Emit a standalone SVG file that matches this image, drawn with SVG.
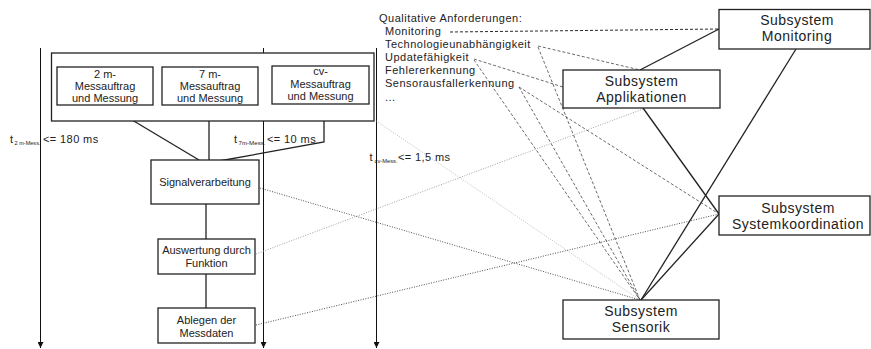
<svg xmlns="http://www.w3.org/2000/svg" width="871" height="349" viewBox="0 0 871 349">
<style>
  .box { fill: #fff; stroke: #222; stroke-width: 1.3; }
  .t11 { font-family: "Liberation Sans", Arial, sans-serif; font-size: 11px; fill: #222; }
  .lbl { font-family: "Liberation Sans", Arial, sans-serif; font-size: 11px; fill: #222; letter-spacing: 0.4px; }
  .sub { font-family: "Liberation Sans", Arial, sans-serif; font-size: 5px; fill: #222; }
  .req { font-family: "Liberation Sans", Arial, sans-serif; font-size: 11px; fill: #222; letter-spacing: 0.5px; }
  .sys { font-family: "Liberation Sans", Arial, sans-serif; font-size: 14px; fill: #222; letter-spacing: 0.5px; text-anchor: middle; }
  .mid { text-anchor: middle; }
  .solid { stroke: #222; stroke-width: 1.3; fill: none; }
  .axis { stroke: #111; stroke-width: 1; fill: none; }
  .dash { stroke: #444; stroke-width: 0.8; stroke-dasharray: 3 2; fill: none; }
  .dashd { stroke: #111; stroke-width: 0.9; stroke-dasharray: 3 2; fill: none; }
  .dotk { stroke: #222; stroke-width: 0.8; stroke-dasharray: 1 1.5; fill: none; }
  .dotg { stroke: #888; stroke-width: 0.8; stroke-dasharray: 1 1.5; fill: none; }
  .dotl { stroke: #aaa; stroke-width: 0.8; stroke-dasharray: 1 1.5; fill: none; }
</style>
<defs>
  <marker id="arr" viewBox="0 0 6 6" refX="6" refY="3" markerWidth="6" markerHeight="6" markerUnits="userSpaceOnUse" orient="auto">
    <path d="M0,0 L6,3 L0,6 z" fill="#111"/>
  </marker>
</defs>
<rect width="871" height="349" fill="#fff"/>

<g id="connectors">
  <!-- time axes -->
  <line class="axis" x1="40.5" y1="48" x2="40.5" y2="348" marker-end="url(#arr)"/>
  <line class="axis" x1="263.5" y1="48" x2="263.5" y2="348" marker-end="url(#arr)"/>
  <line class="axis" x1="376.5" y1="48" x2="376.5" y2="348" marker-end="url(#arr)"/>
  <!-- left flow -->
  <line class="solid" x1="107" y1="105" x2="199" y2="160"/>
  <line class="solid" x1="209" y1="105" x2="209" y2="160"/>
  <polyline class="solid" points="324,104 324,142 219,161"/>
  <line class="solid" x1="206" y1="204" x2="206" y2="239"/>
  <line class="solid" x1="206" y1="274" x2="206" y2="308"/>
  <!-- subsystem solid links -->
  <line class="solid" x1="719" y1="29" x2="640" y2="70"/>
  <line class="solid" x1="796" y1="49" x2="641" y2="300"/>
  <line class="solid" x1="643" y1="108" x2="719" y2="214"/>
  <line class="solid" x1="719" y1="214" x2="641" y2="300"/>
  <!-- requirement dashed links -->
  <line class="dashd" x1="450" y1="32" x2="719" y2="29"/>
  <line class="dash" x1="538" y1="46" x2="640" y2="70"/>
  <line class="dash" x1="538" y1="47" x2="640" y2="300"/>
  <line class="dash" x1="474" y1="59" x2="563" y2="87"/>
  <line class="dash" x1="474" y1="60" x2="640" y2="300"/>
  <line class="dash" x1="519" y1="87" x2="640" y2="300"/>
  <line class="dash" x1="519" y1="87" x2="719" y2="214"/>
  <!-- dotted mapping links -->
  <line class="dotl" x1="366" y1="114" x2="640" y2="300"/>
  <line class="dotk" x1="260" y1="188" x2="640" y2="300"/>
  <line class="dotg" x1="256" y1="254" x2="643" y2="109"/>
  <line class="dotk" x1="256" y1="325" x2="719" y2="214"/>
</g>

<g id="outer-measurement-box">
  <rect class="box" x="51.5" y="53" width="322.5" height="68" fill="none"/>
</g>
<g id="node-2m">
  <rect class="box" x="57" y="67" width="96" height="38"/>
  <text class="t11 mid" x="105" y="78">2 m-</text>
  <text class="t11 mid" x="105" y="90">Messauftrag</text>
  <text class="t11 mid" x="105" y="102">und Messung</text>
</g>
<g id="node-7m">
  <rect class="box" x="162" y="67" width="96" height="38"/>
  <text class="t11 mid" x="210" y="78">7 m-</text>
  <text class="t11 mid" x="210" y="90">Messauftrag</text>
  <text class="t11 mid" x="210" y="102">und Messung</text>
</g>
<g id="node-cv">
  <rect class="box" x="272" y="66" width="97" height="38"/>
  <text class="t11 mid" x="320.5" y="75">cv-</text>
  <text class="t11 mid" x="320.5" y="88">Messauftrag</text>
  <text class="t11 mid" x="320.5" y="100">und Messung</text>
</g>
<g id="node-signalverarbeitung">
  <rect class="box" x="151" y="160" width="108" height="44"/>
  <text class="t11 mid" x="205" y="186">Signalverarbeitung</text>
</g>
<g id="node-auswertung">
  <rect class="box" x="158" y="239" width="97" height="35"/>
  <text class="t11 mid" x="206.5" y="254">Auswertung durch</text>
  <text class="t11 mid" x="206.5" y="267">Funktion</text>
</g>
<g id="node-ablegen">
  <rect class="box" x="158" y="308" width="97" height="35"/>
  <text class="t11 mid" x="206.5" y="324">Ablegen der</text>
  <text class="t11 mid" x="206.5" y="337">Messdaten</text>
</g>

<g id="time-labels">
  <text class="t11" x="10" y="143">t</text>
  <text class="sub" x="14.5" y="144.5" textLength="26" lengthAdjust="spacingAndGlyphs">2 m-Mess.</text>
  <text class="lbl" x="43" y="143">&lt;= 180 ms</text>
  <text class="t11" x="234" y="143">t</text>
  <text class="sub" x="238.5" y="144.5" textLength="27" lengthAdjust="spacingAndGlyphs">7m-Mess.</text>
  <text class="lbl" x="267" y="143">&lt;= 10 ms</text>
  <text class="t11" x="369.5" y="161">t</text>
  <text class="sub" x="374.5" y="162.5" textLength="23" lengthAdjust="spacingAndGlyphs">cv-Mess.</text>
  <text class="lbl" x="398" y="161">&lt;= 1,5 ms</text>
</g>

<g id="requirements">
  <text class="req" x="379" y="22">Qualitative Anforderungen:</text>
  <text class="req" x="385" y="35">Monitoring</text>
  <text class="req" x="385" y="48">Technologieunabhängigkeit</text>
  <text class="req" x="385" y="61">Updatefähigkeit</text>
  <text class="req" x="385" y="74">Fehlererkennung</text>
  <text class="req" x="385" y="87">Sensorausfallerkennung</text>
  <text class="req" x="385" y="101">...</text>
</g>

<g id="subsystem-monitoring">
  <rect class="box" x="719" y="9.5" width="151" height="39.5"/>
  <text class="sys" x="797" y="25">Subsystem</text>
  <text class="sys" x="797" y="41">Monitoring</text>
</g>
<g id="subsystem-applikationen">
  <rect class="box" x="563" y="70" width="157" height="38"/>
  <text class="sys" x="641.5" y="86">Subsystem</text>
  <text class="sys" x="641.5" y="102">Applikationen</text>
</g>
<g id="subsystem-systemkoordination">
  <rect class="box" x="719" y="196" width="151" height="39"/>
  <text class="sys" x="798" y="213">Subsystem</text>
  <text class="sys" x="798" y="229">Systemkoordination</text>
</g>
<g id="subsystem-sensorik">
  <rect class="box" x="563" y="300" width="156" height="39"/>
  <text class="sys" x="641" y="316">Subsystem</text>
  <text class="sys" x="641" y="332">Sensorik</text>
</g>
</svg>
